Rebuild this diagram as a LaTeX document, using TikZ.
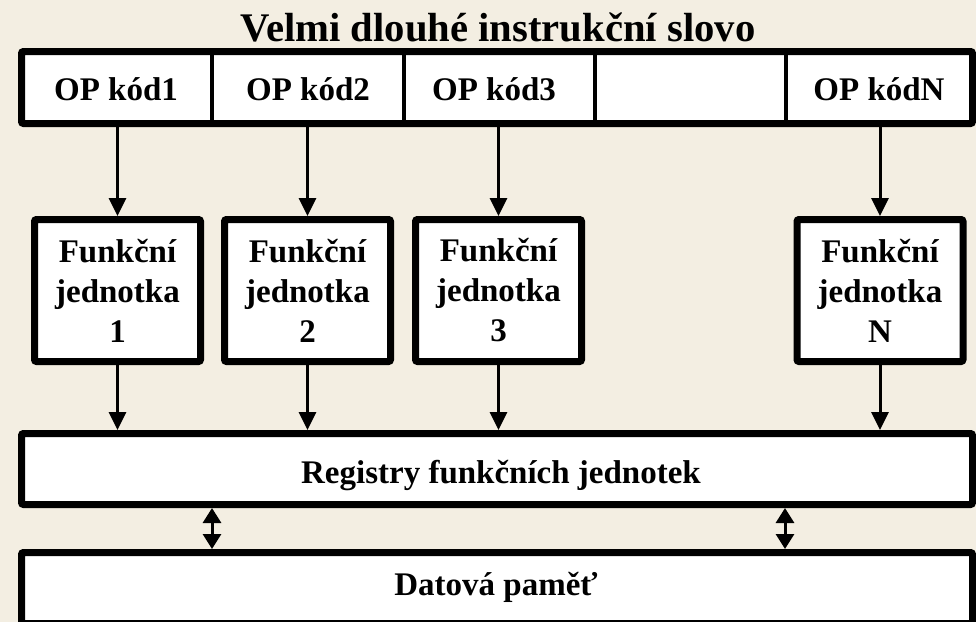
\documentclass[tikz,border=0pt]{standalone}
\usepackage{fontspec}
\setmainfont{Liberation Serif}
\usetikzlibrary{arrows.meta}
\definecolor{paper}{RGB}{243,238,226}

\begin{document}
\begin{tikzpicture}[x=0.75pt,y=-0.75pt,
  txt/.style={font=\fontsize{24.75}{30}\selectfont\bfseries, inner sep=0pt},
  frame/.style={draw=black, fill=white, line width=5.25pt, rounded corners=1.5pt, inner sep=0pt},
  divider/.style={line width=3pt},
  flow/.style={line width=2.25pt, -{Triangle[width=12.75pt,length=13.5pt]}},
  bidir/.style={line width=2.25pt,
    {Triangle[width=13.5pt,length=11.25pt]}-{Triangle[width=13.5pt,length=11.25pt]}},
  unitbox/.style={frame, txt, minimum width=124.5pt, minimum height=106.5pt, align=center},
  wide/.style={frame, minimum width=713.25pt, minimum height=53.25pt}
]
\fill[paper] (0,0) rectangle (976,622);
\useasboundingbox (0,0) rectangle (976,622);
\clip (0,0) rectangle (976,622);

% heading
\node[txt, font=\fontsize{30.5}{36}\selectfont\bfseries, anchor=base] (title) at (498,41)
  {Velmi dlouhé instrukční slovo};

% the long instruction word with its fields
\node[frame, minimum width=713.25pt, minimum height=54pt] (word) at (497,87.5) {};
\foreach \x [count=\i] in {212,404,595,786}
  \coordinate (d\i) at (\x,0);
\foreach \i in {1,...,4}
  \draw[divider] (d\i |- word.north) -- (d\i |- word.south);
\node[txt, anchor=base] (op1) at (116,100) {OP kód1};
\node[txt, anchor=base] (op2) at (308,100) {OP kód2};
\node[txt, anchor=base] (op3) at (494,100) {OP kód3};
\node[txt, anchor=base] (opN) at (879,100) {OP kódN};

% functional units
\node[unitbox] (fu1) at (117.5,290.5) {Funkční\\jednotka\\1};
\node[unitbox] (fu2) at (307.5,290.5) {Funkční\\jednotka\\2};
\node[unitbox] (fu3) at (498.5,290.5) {Funkční\\jednotka\\3};
\node[unitbox] (fuN) at (880,290.5) {Funkční\\jednotka\\N};

% register file and data memory
\node[wide] (reg) at (497,469) {};
\node[txt, anchor=base] (regtext) at (501,483) {Registry funkčních jednotek};
\node[wide] (mem) at (497,588) {};
\node[txt, anchor=base] (memtext) at (496,595) {Datová paměť};

% instruction fields to units, units to registers
\foreach \u in {fu1,fu2,fu3,fuN} {
  \draw[flow] (\u |- word.south) -- (\u.north);
  \draw[flow] (\u.south) -- (\u.south |- reg.north);
}

% register <-> memory transfers
\coordinate (b1) at (212,0);
\coordinate (b2) at (785,0);
\draw[bidir] (b1 |- reg.south) -- (b1 |- mem.north);
\draw[bidir] (b2 |- reg.south) -- (b2 |- mem.north);
\end{tikzpicture}
\end{document}
